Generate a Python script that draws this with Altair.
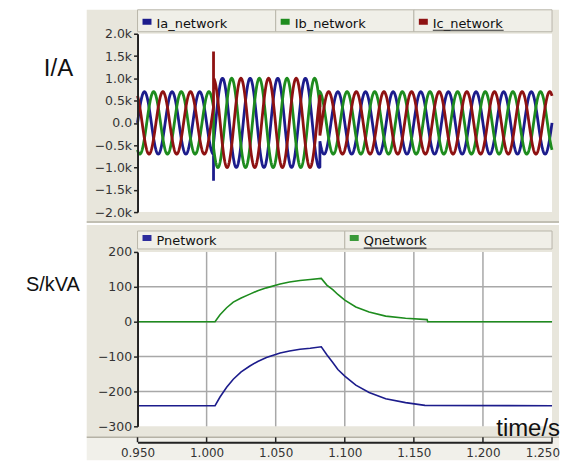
import altair as alt
import numpy as np
import pandas as pd

alt.data_transformers.disable_max_rows()

# ---------------- values ----------------
# time axis
T_DOMAIN = [0.950, 1.250]
X_TICKS = [0.950, 1.000, 1.050, 1.100, 1.150, 1.200, 1.250]
X_GRID = [1.000, 1.050, 1.100, 1.150, 1.200]

# upper panel: three-phase network currents (A)
PHASES = ["Ia_network", "Ib_network", "Ic_network"]
PHASE_COLORS = ["#1c1c8c", "#1e8c1e", "#8e1212"]
PHASE_LAG_S = [0.0, 0.02 / 3, 0.04 / 3]          # 120 degree phase sequence
FREQ_HZ = 50.0
SEG_EDGES_S = [0.950, 1.005, 1.082, 1.250]       # normal / fault / normal
SEG_AMP_A = [700.0, 1000.0, 700.0]               # peak current per segment
SEG_IA_PEAK_S = [0.9950, 1.0115, 0.9950]         # time of an Ia crest per segment
SPIKE_T_S = 1.005
SPIKE_A = [-1300.0, None, 1600.0]                # switching transient
Y1_DOMAIN = [-2000, 2000]
Y1_TICKS = [-2000, -1500, -1000, -500, 0, 500, 1000, 1500, 2000]

# lower panel: active / reactive power
PQ_NAMES = ["Pnetwork", "Qnetwork"]
PQ_COLORS = ["#2c2c9c", "#3a9a3a"]
P_T = [0.950, 1.0061, 1.0097, 1.0145, 1.0193, 1.0250, 1.0313, 1.0370, 1.0433, 1.0532,
       1.0600, 1.0676, 1.0750, 1.0830, 1.0870, 1.0913, 1.0950, 1.1000, 1.1080, 1.1176,
       1.1296, 1.1440, 1.1580, 1.2500]
P_V = [-241, -241, -216, -188, -165, -144, -127, -114, -103, -90,
       -84, -79, -76, -72, -95, -117, -137, -156, -182, -203,
       -221, -232, -240, -241]
Q_T = [0.950, 1.0061, 1.0097, 1.0145, 1.0193, 1.0250, 1.0313, 1.0370, 1.0433, 1.0532,
       1.0600, 1.0676, 1.0750, 1.0830, 1.0870, 1.0913, 1.0950, 1.1000, 1.1080, 1.1176,
       1.1296, 1.1440, 1.1596, 1.1600, 1.2500]
Q_V = [0, 0, 20, 40, 56, 68, 79, 89, 97, 108,
       114, 118, 121, 124, 105, 92, 78, 62, 42, 28,
       16, 10, 6, 0, 0]
Y2_DOMAIN = [-300, 200]
Y2_TICKS = [-300, -200, -100, 0, 100, 200]
Y2_GRID = [-200, -100, 0, 100]

LABEL_I = "I/A"
LABEL_S = "S/kVA"
LABEL_T = "time/s"

# ---------------- build tables ----------------
STEP = 0.0002
rows = []
for k, name in enumerate(PHASES):
    i = 0
    for s in range(3):
        lo, hi = SEG_EDGES_S[s], SEG_EDGES_S[s + 1]
        n = int(round((hi - lo) / STEP)) + 1
        ts = np.linspace(lo, hi, n)
        vals = SEG_AMP_A[s] * np.cos(2 * np.pi * FREQ_HZ * (ts - SEG_IA_PEAK_S[s] - PHASE_LAG_S[k]))
        for tt, vv in zip(ts, vals):
            rows.append({"t": float(tt), "i": float(vv), "phase": name, "o": i})
            i += 1
        if s == 0 and SPIKE_A[k] is not None:
            rows.append({"t": SPIKE_T_S, "i": SPIKE_A[k], "phase": name, "o": i})
            i += 1
cur = pd.DataFrame(rows)

pq = pd.concat([
    pd.DataFrame({"t": P_T, "v": P_V, "s": PQ_NAMES[0]}),
    pd.DataFrame({"t": Q_T, "v": Q_V, "s": PQ_NAMES[1]}),
])

DUMMY = pd.DataFrame({"d": [0]})
W = 416
H1, H2 = 179, 175
FRAME = "#e8e6dc"
FRAME_LIGHT = "#f1f0ea"
LEG_FILL = "#f0efe8"
LEG_STROKE = "#b9b6aa"
FONT = "DejaVu Sans"
BIG_FONT = "Liberation Sans"


def rect(x1, x2, y1, y2, fill, stroke=None):
    kw = {"fill": fill}
    if stroke:
        kw.update(stroke=stroke, strokeWidth=1)
    return alt.Chart(DUMMY).mark_rect(**kw).encode(
        x=alt.value(x1), x2=alt.value(x2), y=alt.value(y1), y2=alt.value(y2))


def text(s, x, y, size, align="left", font=FONT, color="#111", baseline="alphabetic"):
    return alt.Chart(DUMMY).mark_text(
        text=s, align=align, baseline=baseline, font=font,
        fontSize=size, color=color).encode(x=alt.value(x), y=alt.value(y))


def hline(x1, x2, y, color, width=1):
    return alt.Chart(DUMMY).mark_rule(color=color, strokeWidth=width).encode(
        x=alt.value(x1), x2=alt.value(x2), y=alt.value(y))


def legend(names, colors, y1, y2, sq_y, txt_y, ul_y):
    n = len(names)
    bw = W / n
    layers = []
    for j, (nm, c) in enumerate(zip(names, colors)):
        left = j * bw
        layers.append(rect(left, left + bw, y1, y2, LEG_FILL, LEG_STROKE))
        layers.append(rect(left + 5, left + 14, sq_y, sq_y + 6, c))
        layers.append(text(nm, left + 19, txt_y, 13))
        if j == n - 1:
            wdt = 5.47 * 13 if "_" in nm else 4.85 * 13
            layers.append(hline(left + 19, left + 19 + wdt, ul_y, "#333", 1.2))
    return layers


yaxis_common = dict(domainColor="#222", domainWidth=2, tickColor="#222", tickSize=4,
                    tickWidth=1.5, labelFont=FONT, labelFontSize=12.5, labelColor="#333",
                    grid=False, title=None, zindex=1, labelPadding=2, labelOverlap=False)

xs = alt.Scale(domain=T_DOMAIN, nice=False, zero=False)
y2s = alt.Scale(domain=Y2_DOMAIN, nice=False)

X2_AXIS = alt.Axis(values=X_TICKS, offset=16, ticks=False,
                   labelExpr="datum.value >= 1.249 ? '' : format(datum.value, '.3f')",
                   domainColor="#222", domainWidth=2, labelPadding=5,
                   labelFont=FONT, labelFontSize=12, labelColor="#333",
                   grid=False, title=None, zindex=1, labelFlush=False,
                   labelOverlap=False)
Y2_AXIS = alt.Axis(values=Y2_TICKS, **yaxis_common)

# ---------------- upper panel ----------------
top_layers = [
    rect(-129, -51, -24, 190, "white"),
    rect(-51, 423, -24, 190, FRAME),
    hline(-51, 423, 189, "#b5b2a6", 1.5),
    rect(0, W, 0, H1, "white"),
] + legend(PHASES, PHASE_COLORS, -24, -2, -15, -6, -3.5) + [
    text(LABEL_I, -94, 42, 24, font=BIG_FONT),
    alt.Chart(cur).mark_line(strokeWidth=2.8).encode(
        x=alt.X("t:Q", scale=xs, axis=None),
        y=alt.Y("i:Q", scale=alt.Scale(domain=Y1_DOMAIN, nice=False),
                axis=alt.Axis(values=Y1_TICKS,
                              labelExpr="datum.value == 0 ? '0.0' : format(datum.value / 1000, '.1f') + 'k'",
                              **yaxis_common)),
        color=alt.Color("phase:N", scale=alt.Scale(domain=PHASES, range=PHASE_COLORS), legend=None),
        order=alt.Order("o:Q"),
    ),
]
top = alt.layer(*top_layers).properties(width=W, height=H1)

# ---------------- lower panel ----------------
pq_line = alt.Chart(pq).mark_line(strokeWidth=1.6).encode(
    x=alt.X("t:Q", scale=xs, axis=X2_AXIS),
    y=alt.Y("v:Q", scale=y2s, axis=Y2_AXIS),
    color=alt.Color("s:N", scale=alt.Scale(domain=PQ_NAMES, range=PQ_COLORS), legend=None),
)
grid_x = alt.Chart(pd.DataFrame({"t": X_GRID})).mark_rule(color="#a8a8a8", strokeWidth=1.5).encode(
    x=alt.X("t:Q", scale=xs, axis=X2_AXIS))
grid_y = alt.Chart(pd.DataFrame({"v": Y2_GRID})).mark_rule(color="#a8a8a8", strokeWidth=1.5).encode(
    y=alt.Y("v:Q", scale=y2s, axis=Y2_AXIS))
up_ticks = alt.Chart(pd.DataFrame({"t": X_TICKS})).mark_rule(color="#222", strokeWidth=1.5).encode(
    x=alt.X("t:Q", scale=xs, axis=X2_AXIS), y=alt.value(186), y2=alt.value(191))

last_tick_label = f"{X_TICKS[-1]:.3f}"

bot_layers = [
    rect(-129, -51, -27, 209, "white"),
    rect(-51, 423, -27, 186, FRAME),
    rect(-51, 423, 186, 209, FRAME_LIGHT),
    hline(-51, 423, 186, "#b5b2a6", 1.5),
    rect(0, W, 0, H2, "white"),
    grid_x, grid_y,
] + legend(PQ_NAMES, PQ_COLORS, -21, -3, -17, -6.5, -3.8) + [
    text(LABEL_S, -112, 39, 20, font=BIG_FONT),
    pq_line,
    up_ticks,
    text(last_tick_label, 424, 197, 12, align="right", color="#333", baseline="top"),
    text(LABEL_T, 424, 185, 24, align="right", font=BIG_FONT),
]
bottom = alt.layer(*bot_layers).properties(width=W, height=H2)

chart = alt.vconcat(top, bottom, spacing=0).properties(
    padding=0, background="white"
).configure_view(stroke="#a9a699", strokeWidth=1)

chart.save("out.html", embed_options={"renderer": "svg", "actions": False})
